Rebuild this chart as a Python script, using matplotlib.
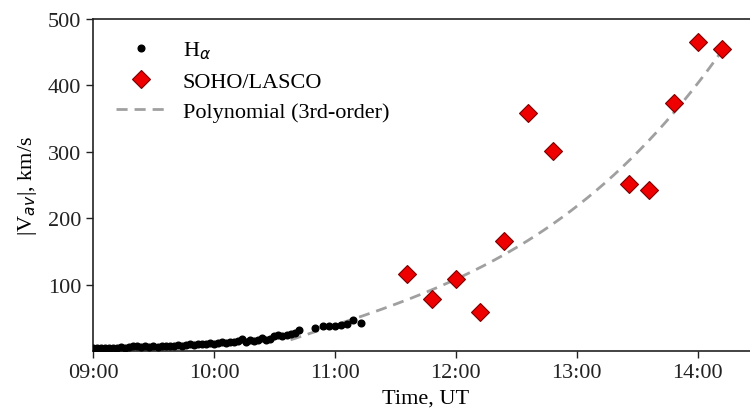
import matplotlib
matplotlib.use("Agg")
import matplotlib.pyplot as plt
import matplotlib.ticker as ticker
import numpy as np

plt.rcParams['font.family'] = ['Liberation Serif', 'DejaVu Serif']
plt.rcParams['mathtext.fontset'] = 'dejavusans'

# H-alpha measurements: minutes after 09:00 and |V_av| (km/s)
ha_minutes = [0, 2, 4, 6, 8, 10, 12, 14, 16, 18, 20, 22, 24, 26, 28, 30, 32, 34, 36, 38,
              40, 42, 44, 46, 48, 50, 52, 54, 56, 58, 60, 62, 64, 66, 68, 70, 72, 74, 76, 78,
              80, 82, 84, 86, 88, 90, 92, 94, 96, 98, 100, 102,
              110, 114, 117, 120, 123, 126, 129, 133]
ha_speed = [4, 5, 4, 5, 4, 5, 5, 6, 5, 6, 7, 8, 6, 7, 6, 7, 6, 7, 8, 7,
            8, 9, 8, 9, 10, 9, 11, 10, 11, 12, 11, 12, 13, 12, 14, 13, 15, 18, 14, 16,
            15, 17, 19, 16, 18, 22, 24, 23, 24, 25, 27, 32,
            35, 38, 38, 38, 39, 41, 46, 42]

# SOHO/LASCO measurements
lasco_times = ['11:36', '11:48', '12:00', '12:12', '12:24', '12:36', '12:48',
               '13:26', '13:36', '13:48', '14:00', '14:12']
lasco_speed = [116, 78, 108, 59, 166, 358, 301, 251, 242, 374, 466, 455]

# 3rd-order polynomial (hours since 12:00 -> km/s), highest power first, as drawn
poly_coef = [5.75, 20.35, 83.85, 108.0]
poly_range = ['10:38', '14:12']

yticks = [100, 200, 300, 400, 500]


def to_hours(s):
    h, m = s.split(':')
    return int(h) + int(m) / 60


ha_t = 9 + np.array(ha_minutes) / 60
lasco_t = np.array([to_hours(s) for s in lasco_times])

fit_t = np.linspace(to_hours(poly_range[0]), to_hours(poly_range[1]), 200)
fit_v = np.polyval(poly_coef, fit_t - 12)

fig = plt.figure(figsize=(7.5, 4.14), dpi=100)
ax = fig.add_axes([0.124, 0.1498, 0.887, 0.802])

ax.plot(ha_t, ha_speed, 'o', color='black', markersize=4.8, label=r'H$_{\alpha}$', zorder=3)
ax.plot(lasco_t, lasco_speed, 'D', color='#ee0000', markeredgecolor='#7a0000',
        markeredgewidth=0.8, markersize=9, linestyle='none', label='SOHO/LASCO', zorder=4)
ax.plot(fit_t, fit_v, '--', color='#a0a0a0', linewidth=2, dashes=(4, 2.5),
        label='Polynomial (3rd-order)', zorder=2)

ax.set_xlim(9, 14.5)
ax.set_ylim(0, 500)
ax.set_yticks(yticks)
ax.set_xticks([9, 10, 11, 12, 13, 14])
ax.xaxis.set_major_formatter(ticker.FuncFormatter(lambda h, p: f'{int(h):02d}:00'))
ax.tick_params(labelsize=16, length=5, width=1, colors='#222222')
ax.spines['right'].set_visible(False)
for sp in ax.spines.values():
    sp.set_linewidth(1.2)
    sp.set_color('#222222')

ax.set_xlabel('Time, UT', fontsize=16, labelpad=5)
ax.set_ylabel(r'|V$_{av}$|, km/s', fontsize=16, labelpad=6)

leg = ax.legend(loc='upper left', frameon=False, fontsize=16, handlelength=2.3,
                handletextpad=0.7, borderaxespad=0.3, labelspacing=0.45,
                bbox_to_anchor=(0.011, 0.985))

fig.savefig('out.png', dpi=100)
